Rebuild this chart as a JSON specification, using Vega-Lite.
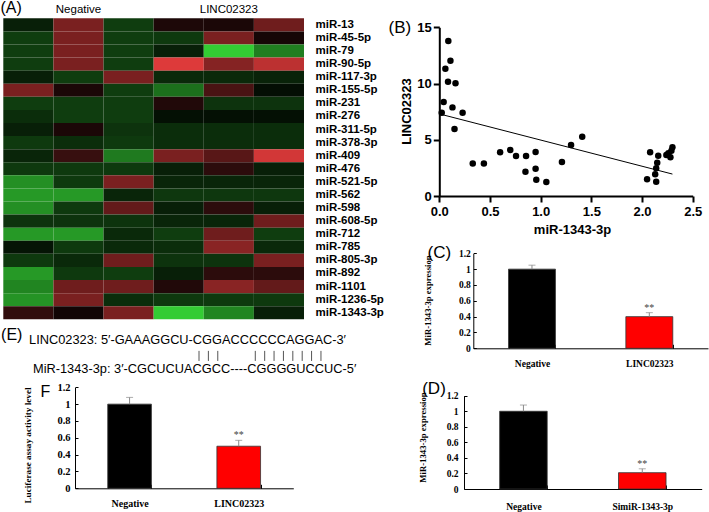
{
"$schema":"https://vega.github.io/schema/vega-lite/v6.json",
"width":709,"height":512,"padding":0,"autosize":{"type":"none"},"background":"white",
"config":{"view":{"stroke":null},"axis":{"grid":false,"domainColor":"black","tickColor":"black","labelColor":"black","titleColor":"black","labelFlush":false,"labelOverlap":false}},
"datasets":{
"heat":[
{"mir":"miR-13","sample":"N1","value":-0.15},{"mir":"miR-13","sample":"N2","value":0.55},{"mir":"miR-13","sample":"N3","value":-0.3},{"mir":"miR-13","sample":"L1","value":0.13},{"mir":"miR-13","sample":"L2","value":0.12},{"mir":"miR-13","sample":"L3","value":0.5},
{"mir":"miR-45-5p","sample":"N1","value":-0.3},{"mir":"miR-45-5p","sample":"N2","value":0.55},{"mir":"miR-45-5p","sample":"N3","value":-0.3},{"mir":"miR-45-5p","sample":"L1","value":-0.28},{"mir":"miR-45-5p","sample":"L2","value":0.55},{"mir":"miR-45-5p","sample":"L3","value":0.1},
{"mir":"miR-79","sample":"N1","value":-0.3},{"mir":"miR-79","sample":"N2","value":0.55},{"mir":"miR-79","sample":"N3","value":-0.3},{"mir":"miR-79","sample":"L1","value":-0.15},{"mir":"miR-79","sample":"L2","value":-1},{"mir":"miR-79","sample":"L3","value":-0.62},
{"mir":"miR-90-5p","sample":"N1","value":-0.3},{"mir":"miR-90-5p","sample":"N2","value":0.55},{"mir":"miR-90-5p","sample":"N3","value":-0.3},{"mir":"miR-90-5p","sample":"L1","value":1},{"mir":"miR-90-5p","sample":"L2","value":0.6},{"mir":"miR-90-5p","sample":"L3","value":0.85},
{"mir":"miR-117-3p","sample":"N1","value":-0.15},{"mir":"miR-117-3p","sample":"N2","value":-0.3},{"mir":"miR-117-3p","sample":"N3","value":0.55},{"mir":"miR-117-3p","sample":"L1","value":-0.2},{"mir":"miR-117-3p","sample":"L2","value":-0.2},{"mir":"miR-117-3p","sample":"L3","value":-0.17},
{"mir":"miR-155-5p","sample":"N1","value":0.55},{"mir":"miR-155-5p","sample":"N2","value":0.12},{"mir":"miR-155-5p","sample":"N3","value":-0.3},{"mir":"miR-155-5p","sample":"L1","value":-0.55},{"mir":"miR-155-5p","sample":"L2","value":0.33},{"mir":"miR-155-5p","sample":"L3","value":-0.07},
{"mir":"miR-231","sample":"N1","value":-0.3},{"mir":"miR-231","sample":"N2","value":-0.3},{"mir":"miR-231","sample":"N3","value":-0.3},{"mir":"miR-231","sample":"L1","value":0.15},{"mir":"miR-231","sample":"L2","value":-0.25},{"mir":"miR-231","sample":"L3","value":-0.25},
{"mir":"miR-276","sample":"N1","value":-0.22},{"mir":"miR-276","sample":"N2","value":-0.3},{"mir":"miR-276","sample":"N3","value":-0.3},{"mir":"miR-276","sample":"L1","value":-0.08},{"mir":"miR-276","sample":"L2","value":-0.08},{"mir":"miR-276","sample":"L3","value":-0.08},
{"mir":"miR-311-5p","sample":"N1","value":-0.15},{"mir":"miR-311-5p","sample":"N2","value":0.12},{"mir":"miR-311-5p","sample":"N3","value":-0.25},{"mir":"miR-311-5p","sample":"L1","value":-0.22},{"mir":"miR-311-5p","sample":"L2","value":-0.22},{"mir":"miR-311-5p","sample":"L3","value":-0.22},
{"mir":"miR-378-3p","sample":"N1","value":-0.28},{"mir":"miR-378-3p","sample":"N2","value":-0.22},{"mir":"miR-378-3p","sample":"N3","value":-0.28},{"mir":"miR-378-3p","sample":"L1","value":-0.22},{"mir":"miR-378-3p","sample":"L2","value":-0.22},{"mir":"miR-378-3p","sample":"L3","value":-0.22},
{"mir":"miR-409","sample":"N1","value":-0.18},{"mir":"miR-409","sample":"N2","value":0.25},{"mir":"miR-409","sample":"N3","value":-0.6},{"mir":"miR-409","sample":"L1","value":0.55},{"mir":"miR-409","sample":"L2","value":0.4},{"mir":"miR-409","sample":"L3","value":0.95},
{"mir":"miR-476","sample":"N1","value":-0.28},{"mir":"miR-476","sample":"N2","value":-0.28},{"mir":"miR-476","sample":"N3","value":-0.28},{"mir":"miR-476","sample":"L1","value":-0.15},{"mir":"miR-476","sample":"L2","value":0.2},{"mir":"miR-476","sample":"L3","value":-0.15},
{"mir":"miR-521-5p","sample":"N1","value":-0.7},{"mir":"miR-521-5p","sample":"N2","value":-0.28},{"mir":"miR-521-5p","sample":"N3","value":0.55},{"mir":"miR-521-5p","sample":"L1","value":-0.18},{"mir":"miR-521-5p","sample":"L2","value":-0.18},{"mir":"miR-521-5p","sample":"L3","value":-0.18},
{"mir":"miR-562","sample":"N1","value":-0.75},{"mir":"miR-562","sample":"N2","value":-0.75},{"mir":"miR-562","sample":"N3","value":-0.18},{"mir":"miR-562","sample":"L1","value":-0.27},{"mir":"miR-562","sample":"L2","value":-0.27},{"mir":"miR-562","sample":"L3","value":-0.27},
{"mir":"miR-598","sample":"N1","value":-0.7},{"mir":"miR-598","sample":"N2","value":-0.28},{"mir":"miR-598","sample":"N3","value":0.45},{"mir":"miR-598","sample":"L1","value":-0.15},{"mir":"miR-598","sample":"L2","value":0.2},{"mir":"miR-598","sample":"L3","value":-0.15},
{"mir":"miR-608-5p","sample":"N1","value":-0.25},{"mir":"miR-608-5p","sample":"N2","value":-0.25},{"mir":"miR-608-5p","sample":"N3","value":-0.25},{"mir":"miR-608-5p","sample":"L1","value":-0.18},{"mir":"miR-608-5p","sample":"L2","value":-0.18},{"mir":"miR-608-5p","sample":"L3","value":0.5},
{"mir":"miR-712","sample":"N1","value":-0.75},{"mir":"miR-712","sample":"N2","value":-0.75},{"mir":"miR-712","sample":"N3","value":-0.2},{"mir":"miR-712","sample":"L1","value":-0.3},{"mir":"miR-712","sample":"L2","value":0.5},{"mir":"miR-712","sample":"L3","value":-0.3},
{"mir":"miR-785","sample":"N1","value":-0.1},{"mir":"miR-785","sample":"N2","value":-0.28},{"mir":"miR-785","sample":"N3","value":-0.2},{"mir":"miR-785","sample":"L1","value":-0.22},{"mir":"miR-785","sample":"L2","value":0.62},{"mir":"miR-785","sample":"L3","value":-0.2},
{"mir":"miR-805-3p","sample":"N1","value":-0.28},{"mir":"miR-805-3p","sample":"N2","value":-0.2},{"mir":"miR-805-3p","sample":"N3","value":0.5},{"mir":"miR-805-3p","sample":"L1","value":-0.25},{"mir":"miR-805-3p","sample":"L2","value":-0.25},{"mir":"miR-805-3p","sample":"L3","value":0.55},
{"mir":"miR-892","sample":"N1","value":-0.75},{"mir":"miR-892","sample":"N2","value":-0.28},{"mir":"miR-892","sample":"N3","value":-0.3},{"mir":"miR-892","sample":"L1","value":-0.15},{"mir":"miR-892","sample":"L2","value":0.2},{"mir":"miR-892","sample":"L3","value":0.2},
{"mir":"miR-1101","sample":"N1","value":-0.65},{"mir":"miR-1101","sample":"N2","value":0.5},{"mir":"miR-1101","sample":"N3","value":0.5},{"mir":"miR-1101","sample":"L1","value":0.15},{"mir":"miR-1101","sample":"L2","value":0.62},{"mir":"miR-1101","sample":"L3","value":0.45},
{"mir":"miR-1236-5p","sample":"N1","value":-0.72},{"mir":"miR-1236-5p","sample":"N2","value":0.55},{"mir":"miR-1236-5p","sample":"N3","value":-0.22},{"mir":"miR-1236-5p","sample":"L1","value":-0.28},{"mir":"miR-1236-5p","sample":"L2","value":-0.28},{"mir":"miR-1236-5p","sample":"L3","value":-0.28},
{"mir":"miR-1343-3p","sample":"N1","value":0.22},{"mir":"miR-1343-3p","sample":"N2","value":0.08},{"mir":"miR-1343-3p","sample":"N3","value":0.55},{"mir":"miR-1343-3p","sample":"L1","value":-1},{"mir":"miR-1343-3p","sample":"L2","value":-0.65},{"mir":"miR-1343-3p","sample":"L3","value":-0.15}
],
"scatter":[
{"x":0.089,"y":13.78},{"x":0.11,"y":12.03},{"x":0.06,"y":11.32},{"x":0.086,"y":10.16},{"x":0.16,"y":10.02},{"x":0.043,"y":8.36},{"x":0.13,"y":7.88},{"x":0.024,"y":7.4},{"x":0.23,"y":7.4},{"x":0.15,"y":5.96},
{"x":0.33,"y":2.88},{"x":0.44,"y":2.88},{"x":0.6,"y":3.88},{"x":0.7,"y":4.09},{"x":0.757,"y":3.56},{"x":0.856,"y":3.56},{"x":0.85,"y":2.16},{"x":0.95,"y":3.91},{"x":0.95,"y":2.43},{"x":0.957,"y":1.45},{"x":1.056,"y":1.24},{"x":1.21,"y":3.02},{"x":1.3,"y":4.53},{"x":1.41,"y":5.27},
{"x":2.08,"y":3.88},{"x":2.05,"y":1.48},{"x":2.14,"y":1.27},{"x":2.13,"y":1.93},{"x":2.14,"y":2.46},{"x":2.15,"y":2.96},{"x":2.16,"y":3.58},{"x":2.24,"y":3.64},{"x":2.26,"y":3.8},{"x":2.28,"y":3.44},{"x":2.29,"y":4.03},{"x":2.3,"y":4.33}
],
"fit":[{"x":0,"y":7.3},{"x":2.3,"y":1.95}],
"barC":[{"group":"Negative","value":1.0,"upper":1.05,"star":""},{"group":"LINC02323","value":0.4,"upper":0.45,"star":"**"}],
"barD":[{"group":"Negative","value":1.0,"upper":1.08,"star":""},{"group":"SimiR-1343-3p","value":0.21,"upper":0.26,"star":"**"}],
"barF":[{"group":"Negative","value":1.0,"upper":1.08,"star":""},{"group":"LINC02323","value":0.5,"upper":0.57,"star":"**"}],
"pairs":[{"nt":10},{"nt":11},{"nt":12},{"nt":16},{"nt":17},{"nt":18},{"nt":19},{"nt":20},{"nt":21},{"nt":22},{"nt":23}]
},
"layer":[
{
"data":{"name":"heat"},
"mark":{"type":"rect"},
"encoding":{
"x":{"field":"sample","type":"nominal","scale":{"domain":["N1","N2","N3","L1","L2","L3"],"range":[3.3,304],"paddingInner":0,"paddingOuter":0},
"axis":{"orient":"top","offset":-18.3,"ticks":false,"tickSize":0,"domain":false,"labelAngle":0,"labelFont":"Liberation Sans","labelFontSize":11.5,"labelPadding":6,"labelBaseline":"alphabetic","labelExpr":"datum.value == 'N2' ? 'Negative' : (datum.value == 'L2' ? 'LINC02323' : '')","title":"(A)","titleX":0,"titleY":-6,"titleAlign":"left","titleBaseline":"alphabetic","titleFont":"Liberation Sans","titleFontSize":16,"titleFontWeight":"normal","titleAngle":0}},
"y":{"field":"mir","type":"nominal","scale":{"domain":["miR-13","miR-45-5p","miR-79","miR-90-5p","miR-117-3p","miR-155-5p","miR-231","miR-276","miR-311-5p","miR-378-3p","miR-409","miR-476","miR-521-5p","miR-562","miR-598","miR-608-5p","miR-712","miR-785","miR-805-3p","miR-892","miR-1101","miR-1236-5p","miR-1343-3p"],"range":[18.3,319.3],"paddingInner":0,"paddingOuter":0},
"axis":{"orient":"right","offset":-405,"ticks":false,"tickSize":0,"domain":false,"labelFont":"Liberation Sans","labelFontWeight":"bold","labelFontSize":11.5,"labelPadding":11,"title":null}},
"color":{"field":"value","type":"quantitative","scale":{"domain":[-1,0,1],"range":["#33cc33","#000000","#dd3a3a"],"interpolate":"rgb"},"legend":null}
}
},
{
"layer":[
{"data":{"name":"scatter"},"mark":{"type":"point","filled":true,"color":"black","opacity":1,"size":42},
"encoding":{
"x":{"field":"x","type":"quantitative","scale":{"domain":[0,2.5],"range":[439.3,692.7],"nice":false,"zero":false},
"axis":{"orient":"bottom","offset":-316,"values":[0,0.5,1,1.5,2,2.5],"format":".1f","labelFont":"Liberation Sans","labelFontSize":13,"labelFontWeight":"bold","tickSize":6,"tickWidth":2,"domainWidth":2,"labelPadding":3,"title":"miR-1343-3p","titleFont":"Liberation Sans","titleFontSize":13,"titleFontWeight":"bold","titleX":572,"titleY":37,"titleAlign":"center","titleBaseline":"alphabetic"}},
"y":{"field":"y","type":"quantitative","scale":{"domain":[0,15],"range":[196,27.3],"nice":false,"zero":false},
"axis":{"orient":"left","offset":-439.3,"values":[0,5,10,15],"labelFont":"Liberation Sans","labelFontSize":13,"labelFontWeight":"bold","tickSize":6,"tickWidth":2,"domainWidth":2,"labelPadding":2,"title":"LINC02323","titleFont":"Liberation Sans","titleFontSize":13,"titleFontWeight":"bold","titleAngle":-90,"titleX":-29,"titleY":111,"titleAlign":"center","titleBaseline":"alphabetic"}}
}},
{"data":{"name":"fit"},"mark":{"type":"line","color":"black","strokeWidth":1},
"encoding":{"x":{"field":"x","type":"quantitative","title":"miR-1343-3p"},"y":{"field":"y","type":"quantitative","title":"LINC02323"}}},
{"data":{"values":[{}]},"mark":{"type":"text","align":"left","baseline":"alphabetic","font":"Liberation Sans","fontSize":17,"color":"black"},
"encoding":{"x":{"datum":-0.5,"type":"quantitative"},"y":{"datum":14.45,"type":"quantitative"},"text":{"value":"(B)"}}}
]
},
{
"data":{"name":"barC"},
"encoding":{"x":{"field":"group","type":"nominal","sort":null,"scale":{"domain":["Negative","LINC02323"],"range":[473.3,708],"paddingInner":0.6,"paddingOuter":0.3},
"axis":{"orient":"bottom","offset":-163.7,"tickBand":"extent","tickSize":-4,"labelAngle":0,"labelFont":"Liberation Serif","labelFontWeight":"bold","labelFontSize":9.5,"labelPadding":14,"title":"(C)","titleX":427,"titleY":-91.3,"titleAlign":"left","titleBaseline":"alphabetic","titleFont":"Liberation Sans","titleFontSize":17,"titleFontWeight":"normal","titleAngle":0}}},
"layer":[
{"mark":{"type":"bar","stroke":"#333333","strokeWidth":0.8},
"encoding":{"y":{"field":"value","type":"quantitative","scale":{"domain":[0,1.2],"range":[348.3,253.3],"nice":false},
"axis":{"orient":"left","offset":-473.3,"values":[0,0.2,0.4,0.6,0.8,1,1.2],"format":".1~f","tickSize":-3,"labelPadding":6,"labelFont":"Liberation Serif","labelFontWeight":"bold","labelFontSize":9.5,"title":"MiR-1343-3p expression","titleFont":"Liberation Serif","titleFontWeight":"bold","titleFontSize":8.7,"titleAngle":-90,"titleX":-43.3,"titleY":300,"titleAlign":"center","titleBaseline":"alphabetic"}},
"color":{"field":"group","type":"nominal","scale":{"domain":["Negative","LINC02323"],"range":["#000000","#ff0000"]},"legend":null}}},
{"mark":{"type":"rule","color":"#8a8a8a","strokeWidth":1},"encoding":{"y":{"field":"value","type":"quantitative","title":"MiR-1343-3p expression"},"y2":{"field":"upper"}}},
{"mark":{"type":"tick","orient":"horizontal","color":"#8a8a8a","size":7,"thickness":1},"encoding":{"y":{"field":"upper","type":"quantitative","title":"MiR-1343-3p expression"}}},
{"mark":{"type":"text","baseline":"bottom","font":"Liberation Serif","fontSize":10,"color":"#444444"},"encoding":{"y":{"field":"upper","type":"quantitative","title":"MiR-1343-3p expression"},"text":{"field":"star"}}}
]
},
{
"data":{"name":"barD"},
"encoding":{"x":{"field":"group","type":"nominal","sort":null,"scale":{"domain":["Negative","SimiR-1343-3p"],"range":[464,701.7],"paddingInner":0.6,"paddingOuter":0.3},
"axis":{"orient":"bottom","offset":-23,"tickBand":"extent","tickSize":-4,"labelAngle":0,"labelFont":"Liberation Serif","labelFontWeight":"bold","labelFontSize":9.5,"labelPadding":16,"title":"(D)","titleX":421.7,"titleY":-95.4,"titleAlign":"left","titleBaseline":"alphabetic","titleFont":"Liberation Sans","titleFontSize":17,"titleFontWeight":"normal","titleAngle":0}}},
"layer":[
{"mark":{"type":"bar","stroke":"#333333","strokeWidth":0.8},
"encoding":{"y":{"field":"value","type":"quantitative","scale":{"domain":[0,1.2],"range":[489,395.7],"nice":false},
"axis":{"orient":"left","offset":-464,"values":[0,0.2,0.4,0.6,0.8,1,1.2],"format":".1~f","tickSize":-3,"labelPadding":9,"labelFont":"Liberation Serif","labelFontWeight":"bold","labelFontSize":9.5,"title":"MiR-1343-3p expression","titleFont":"Liberation Serif","titleFontWeight":"bold","titleFontSize":8.7,"titleAngle":-90,"titleX":-39,"titleY":437,"titleAlign":"center","titleBaseline":"alphabetic"}},
"color":{"field":"group","type":"nominal","scale":{"domain":["Negative","SimiR-1343-3p"],"range":["#000000","#ff0000"]},"legend":null}}},
{"mark":{"type":"rule","color":"#8a8a8a","strokeWidth":1},"encoding":{"y":{"field":"value","type":"quantitative","title":"MiR-1343-3p expression"},"y2":{"field":"upper"}}},
{"mark":{"type":"tick","orient":"horizontal","color":"#8a8a8a","size":7,"thickness":1},"encoding":{"y":{"field":"upper","type":"quantitative","title":"MiR-1343-3p expression"}}},
{"mark":{"type":"text","baseline":"bottom","font":"Liberation Serif","fontSize":10,"color":"#444444"},"encoding":{"y":{"field":"upper","type":"quantitative","title":"MiR-1343-3p expression"},"text":{"field":"star"}}}
]
},
{
"data":{"name":"barF"},
"encoding":{"x":{"field":"group","type":"nominal","sort":null,"scale":{"domain":["Negative","LINC02323"],"range":[75,293.3],"paddingInner":0.6,"paddingOuter":0.3},
"axis":{"orient":"bottom","offset":-23.7,"tickBand":"extent","tickSize":-4,"labelAngle":0,"labelFont":"Liberation Serif","labelFontWeight":"bold","labelFontSize":10,"labelPadding":14,"title":"F","titleX":40,"titleY":-92.3,"titleAlign":"left","titleBaseline":"alphabetic","titleFont":"Liberation Sans","titleFontSize":16,"titleFontWeight":"normal","titleAngle":0}}},
"layer":[
{"mark":{"type":"bar","stroke":"#333333","strokeWidth":0.8},
"encoding":{"y":{"field":"value","type":"quantitative","scale":{"domain":[0,1.2],"range":[488.3,387.3],"nice":false},
"axis":{"orient":"left","offset":-75,"values":[0,0.2,0.4,0.6,0.8,1,1.2],"format":".1~f","tickSize":-3,"labelPadding":8,"labelFont":"Liberation Serif","labelFontWeight":"bold","labelFontSize":10.5,"title":"Luciferase assay activity level","titleFont":"Liberation Serif","titleFontWeight":"bold","titleFontSize":9.2,"titleAngle":-90,"titleX":-44.5,"titleY":445,"titleAlign":"center","titleBaseline":"alphabetic"}},
"color":{"field":"group","type":"nominal","scale":{"domain":["Negative","LINC02323"],"range":["#000000","#ff0000"]},"legend":null}}},
{"mark":{"type":"rule","color":"#8a8a8a","strokeWidth":1},"encoding":{"y":{"field":"value","type":"quantitative","title":"Luciferase assay activity level"},"y2":{"field":"upper"}}},
{"mark":{"type":"tick","orient":"horizontal","color":"#8a8a8a","size":7,"thickness":1},"encoding":{"y":{"field":"upper","type":"quantitative","title":"Luciferase assay activity level"}}},
{"mark":{"type":"text","baseline":"bottom","font":"Liberation Serif","fontSize":10,"color":"#444444"},"encoding":{"y":{"field":"upper","type":"quantitative","title":"Luciferase assay activity level"},"text":{"field":"star"}}}
]
},
{
"layer":[
{"data":{"name":"pairs"},"mark":{"type":"rule","color":"#555555","strokeWidth":1},
"encoding":{"x":{"field":"nt","type":"quantitative","scale":{"domain":[0,26],"range":[105.2,349.1],"nice":false,"zero":false},"axis":null},
"y":{"datum":0.24,"type":"quantitative","scale":{"domain":[0,1],"range":[344,372.7],"nice":false,"zero":false},"axis":null},"y2":{"datum":0.59}}},
{"data":{"values":[{}]},"mark":{"type":"text","align":"left","baseline":"alphabetic","font":"Liberation Sans","fontSize":12.8,"color":"black"},
"encoding":{"x":{"datum":-8.12,"type":"quantitative"},"y":{"datum":0,"type":"quantitative"},"text":{"value":"LINC02323: 5′-GAAAGGCU-CGGACCCCCCAGGAC-3′"}}},
{"data":{"values":[{}]},"mark":{"type":"text","align":"left","baseline":"alphabetic","font":"Liberation Sans","fontSize":12.8,"color":"black"},
"encoding":{"x":{"datum":-7.7,"type":"quantitative"},"y":{"datum":1,"type":"quantitative"},"text":{"value":"MiR-1343-3p: 3′-CGCUCUACGCC----CGGGGUCCUC-5′"}}},
{"data":{"values":[{}]},"mark":{"type":"text","align":"left","baseline":"alphabetic","font":"Liberation Sans","fontSize":16,"color":"black"},
"encoding":{"x":{"datum":-11.1,"type":"quantitative"},"y":{"datum":-0.14,"type":"quantitative"},"text":{"value":"(E)"}}}
]
}
],
"resolve":{"scale":{"x":"independent","y":"independent","color":"independent"},"axis":{"x":"independent","y":"independent"}}
}
